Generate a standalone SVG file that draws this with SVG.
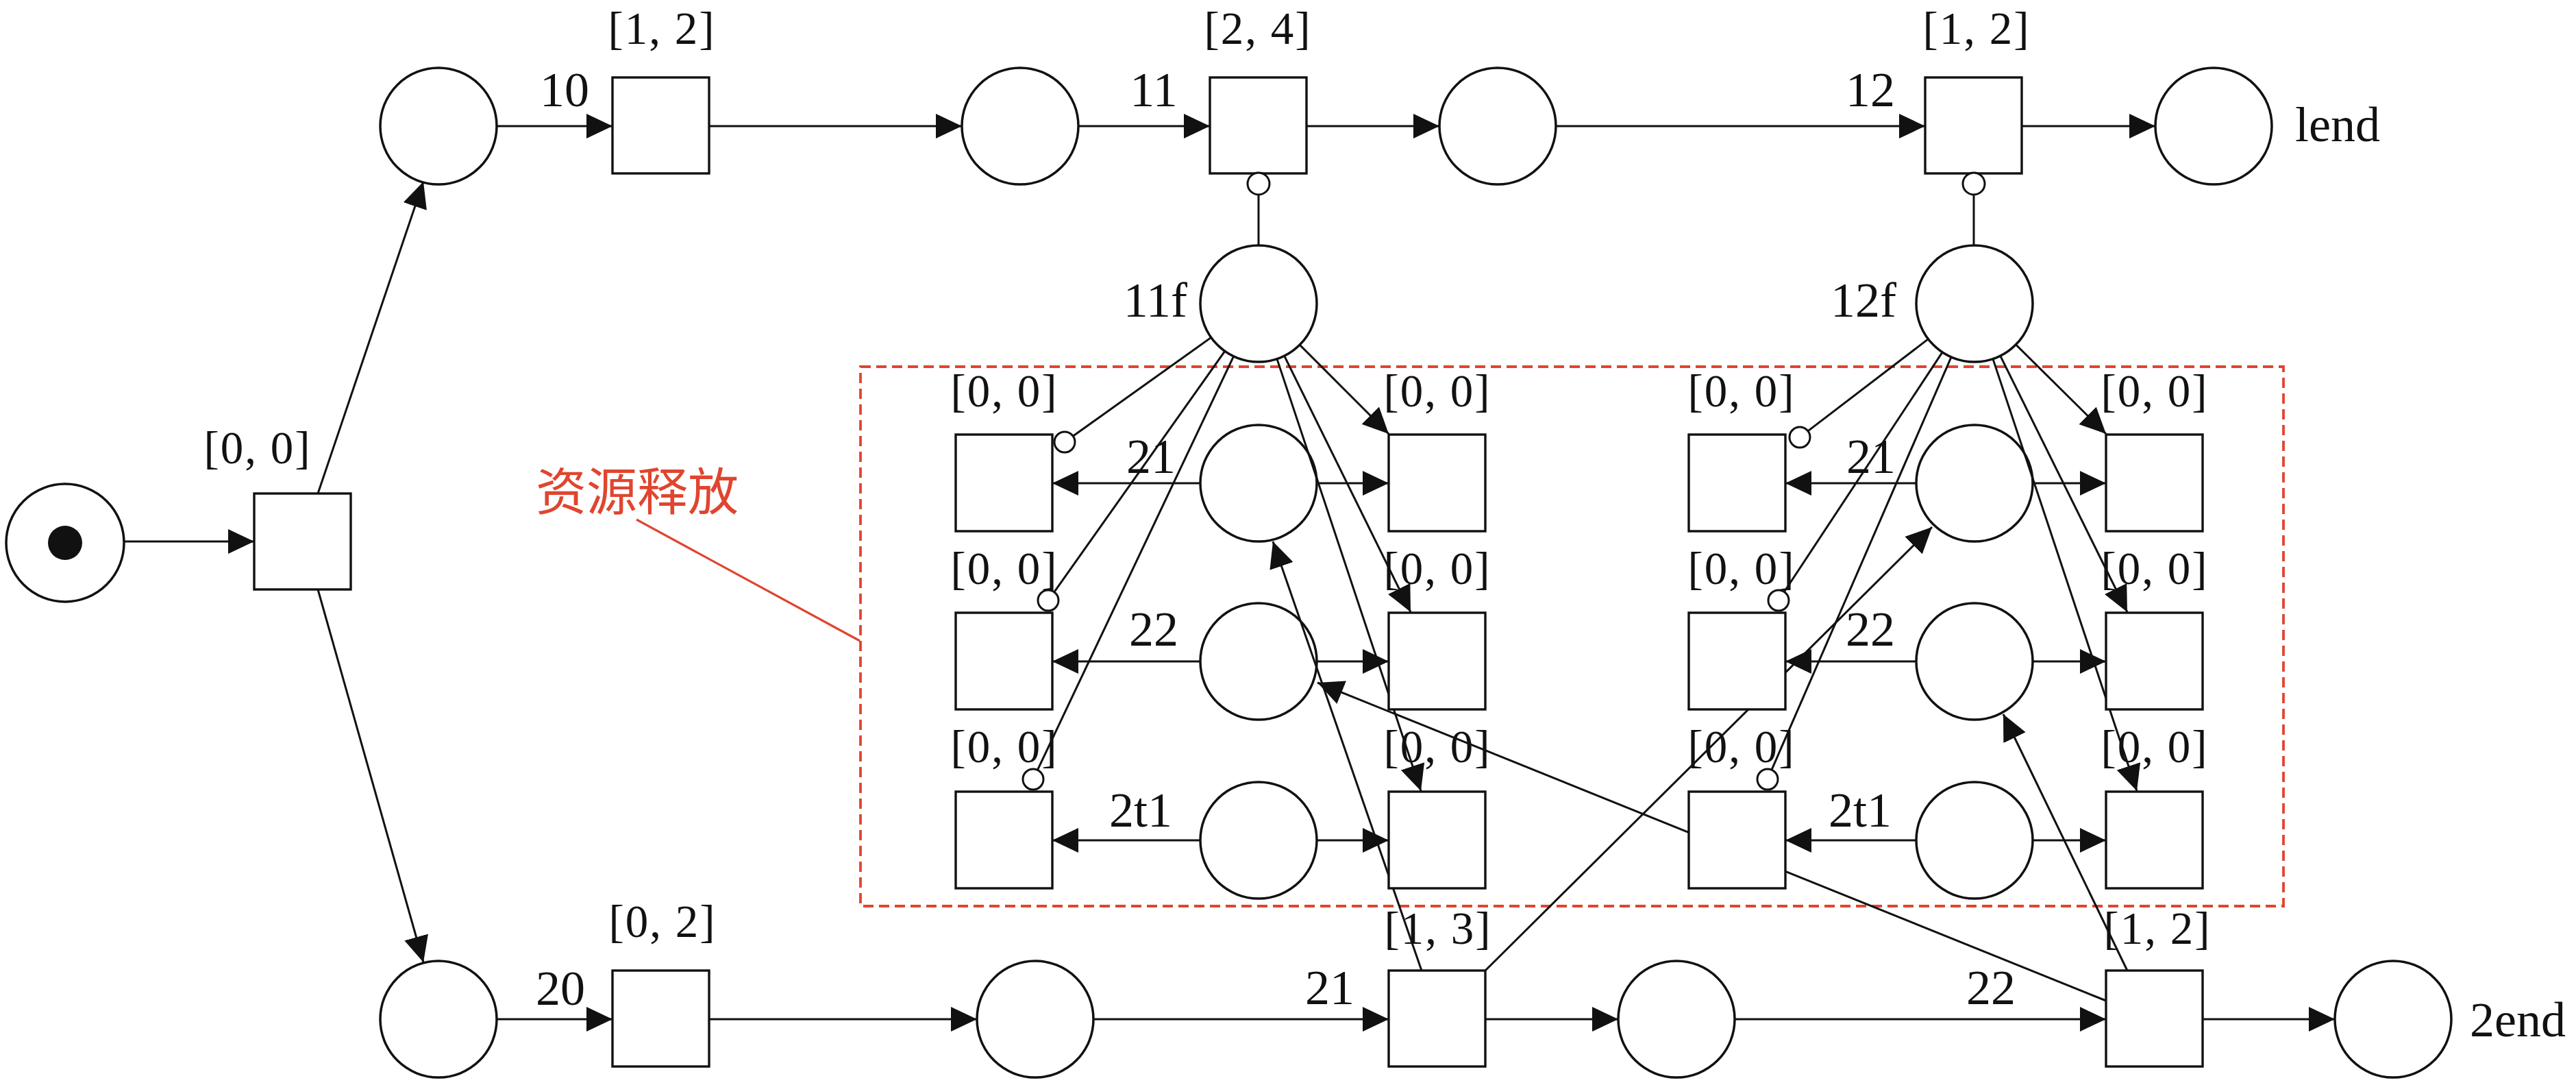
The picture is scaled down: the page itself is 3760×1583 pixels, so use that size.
<svg xmlns="http://www.w3.org/2000/svg" width="3760" height="1583" viewBox="0 0 3760 1583">
<defs>
<marker id="arr" markerUnits="userSpaceOnUse" viewBox="0 0 38 36" markerWidth="38" markerHeight="36" refX="38" refY="18" orient="auto">
<path d="M0,0 L38,18 L0,36 z" fill="#111"/>
</marker>
<style>
.c{stroke:#111;stroke-width:3;fill:none}
.a{stroke:#111;stroke-width:3;fill:none;marker-end:url(#arr)}
.p{stroke:#111;stroke-width:3.5;fill:none}
.t{stroke:#111;stroke-width:3.4;fill:#fff}
.i{stroke:#111;stroke-width:3;fill:#fff}
.b{font-family:"Liberation Serif","Times New Roman",serif;font-size:67px;letter-spacing:2px;fill:#111;text-anchor:middle}
.l{font-family:"Liberation Serif","Times New Roman",serif;font-size:72px;fill:#111}
.m{text-anchor:middle}
.e{text-anchor:end}
</style>
</defs>
<rect width="3760" height="1583" fill="#fff"/>

<g id="resource-release-box">
<rect x="1256" y="535" width="2077" height="787" fill="none" stroke="#E0452F" stroke-width="3.8" stroke-dasharray="15 8"/>
<line x1="929" y1="758" x2="1255" y2="935" stroke="#E0452F" stroke-width="3.2"/>
<text x="782" y="744" font-family="'Noto Sans CJK SC',sans-serif" font-size="74" fill="#E0452F">资源释放</text>
</g>

<g id="connectors">
<path class="a" d="M181,790 L371,790"/>
<path class="a" d="M464,720 L618,265"/>
<path class="a" d="M464,860 L618,1404"/>
<path class="a" d="M725,184 L894,184"/>
<path class="a" d="M1035,184 L1404,184"/>
<path class="a" d="M1574,184 L1766,184"/>
<path class="a" d="M1907,184 L2101,184"/>
<path class="a" d="M2271,184 L2810,184"/>
<path class="a" d="M2951,184 L3146,184"/>
<path class="a" d="M725,1487 L894,1487"/>
<path class="a" d="M1035,1487 L1426,1487"/>
<path class="a" d="M1596,1487 L2027,1487"/>
<path class="a" d="M2168,1487 L2362,1487"/>
<path class="a" d="M2532,1487 L3074,1487"/>
<path class="a" d="M3215,1487 L3408,1487"/>
<path class="c" d="M1837,284 L1837,358"/>
<path class="c" d="M2881,284 L2881,358"/>
<path class="c" d="M1767.8,492.4 L1566.2,636.3"/>
<path class="c" d="M1787.8,512.3 L1538.7,863.8"/>
<path class="c" d="M1800.6,519.8 L1514.4,1123.4"/>
<path class="a" d="M1897.1,503.1 L2027,633"/>
<path class="a" d="M1874.6,519.2 L2059,893"/>
<path class="a" d="M1863.9,523.6 L2074,1154"/>
<path class="c" d="M2814.5,494.6 L2638.9,628.9"/>
<path class="c" d="M2835.1,513.9 L2604.3,863.5"/>
<path class="c" d="M2848.1,520.9 L2586,1123.2"/>
<path class="a" d="M2942.4,502.8 L3074,633"/>
<path class="a" d="M2919.7,519.2 L3105,893"/>
<path class="a" d="M2908.9,523.6 L3119,1154"/>
<path class="a" d="M1752,705 L1536,705"/>
<path class="a" d="M1922,705 L2027,705"/>
<path class="a" d="M1752,965 L1536,965"/>
<path class="a" d="M1922,965 L2027,965"/>
<path class="a" d="M1752,1226 L1536,1226"/>
<path class="a" d="M1922,1226 L2027,1226"/>
<path class="a" d="M2797,705 L2606,705"/>
<path class="a" d="M2967,705 L3074,705"/>
<path class="a" d="M2797,965 L2606,965"/>
<path class="a" d="M2967,965 L3074,965"/>
<path class="a" d="M2797,1226 L2606,1226"/>
<path class="a" d="M2967,1226 L3074,1226"/>
<path class="a" d="M2075,1416 L1858,790"/>
<path class="a" d="M2168,1416 L2820,769"/>
<path class="a" d="M3074,1460 L1923,996"/>
<path class="a" d="M3105,1416 L2924,1042"/>
</g>

<g id="p-start"><circle class="p" cx="95" cy="792" r="86"/><circle cx="95" cy="792" r="25" fill="#111"/></g>
<g id="t-start"><rect class="t" x="371" y="720" width="141" height="140"/><text class="b" x="376" y="676">[0, 0]</text></g>

<g id="p-1a"><circle class="p" cx="640" cy="184" r="85"/></g>
<g id="t-10"><rect class="t" x="894" y="113" width="141" height="140"/><text class="b" x="966" y="64">[1, 2]</text><text class="l m" x="824" y="155">10</text></g>
<g id="p-1b"><circle class="p" cx="1489" cy="184" r="85"/></g>
<g id="t-11"><rect class="t" x="1766" y="113" width="141" height="140"/><text class="b" x="1836" y="64">[2, 4]</text><text class="l m" x="1684" y="155">11</text></g>
<g id="p-1c"><circle class="p" cx="2186" cy="184" r="85"/></g>
<g id="t-12"><rect class="t" x="2810" y="113" width="141" height="140"/><text class="b" x="2885" y="64">[1, 2]</text><text class="l m" x="2730" y="155">12</text></g>
<g id="p-lend"><circle class="p" cx="3231" cy="184" r="85"/><text class="l" x="3350" y="206">lend</text></g>
<g id="inh-11"><circle class="i" cx="1837" cy="268" r="16"/></g>
<g id="inh-12"><circle class="i" cx="2881" cy="268" r="16"/></g>

<g id="p-11f"><circle class="p" cx="1837" cy="443" r="85"/><text class="l e" x="1733" y="462">11f</text></g>
<g id="p-12f"><circle class="p" cx="2882" cy="443" r="85"/><text class="l e" x="2768" y="462">12f</text></g>

<g id="g1-p21"><circle class="p" cx="1837" cy="705" r="85"/><text class="l m" x="1680" y="690">21</text></g>
<g id="g1-p22"><circle class="p" cx="1837" cy="965" r="85"/><text class="l m" x="1684" y="942">22</text></g>
<g id="g1-p2t1"><circle class="p" cx="1837" cy="1226" r="85"/><text class="l m" x="1665" y="1206">2t1</text></g>
<g id="g1-tl1"><rect class="t" x="1395" y="634" width="141" height="141"/><text class="b" x="1466" y="593">[0, 0]</text></g>
<g id="g1-tl2"><rect class="t" x="1395" y="894" width="141" height="141"/><text class="b" x="1466" y="852">[0, 0]</text></g>
<g id="g1-tl3"><rect class="t" x="1395" y="1155" width="141" height="141"/><text class="b" x="1466" y="1112">[0, 0]</text></g>
<g id="g1-tr1"><rect class="t" x="2027" y="634" width="141" height="141"/><text class="b" x="2098" y="593">[0, 0]</text></g>
<g id="g1-tr2"><rect class="t" x="2027" y="894" width="141" height="141"/><text class="b" x="2098" y="852">[0, 0]</text></g>
<g id="g1-tr3"><rect class="t" x="2027" y="1155" width="141" height="141"/><text class="b" x="2098" y="1112">[0, 0]</text></g>
<g id="g1-inh"><circle class="i" cx="1554" cy="645" r="15"/><circle class="i" cx="1530" cy="876" r="15"/><circle class="i" cx="1508" cy="1137" r="15"/></g>

<g id="g2-p21"><circle class="p" cx="2882" cy="705" r="85"/><text class="l m" x="2731" y="690">21</text></g>
<g id="g2-p22"><circle class="p" cx="2882" cy="965" r="85"/><text class="l m" x="2730" y="942">22</text></g>
<g id="g2-p2t1"><circle class="p" cx="2882" cy="1226" r="85"/><text class="l m" x="2715" y="1206">2t1</text></g>
<g id="g2-tl1"><rect class="t" x="2465" y="634" width="141" height="141"/><text class="b" x="2542" y="593">[0, 0]</text></g>
<g id="g2-tl2"><rect class="t" x="2465" y="894" width="141" height="141"/><text class="b" x="2542" y="852">[0, 0]</text></g>
<g id="g2-tl3"><rect class="t" x="2465" y="1155" width="141" height="141"/><text class="b" x="2542" y="1112">[0, 0]</text></g>
<g id="g2-tr1"><rect class="t" x="3074" y="634" width="141" height="141"/><text class="b" x="3145" y="593">[0, 0]</text></g>
<g id="g2-tr2"><rect class="t" x="3074" y="894" width="141" height="141"/><text class="b" x="3145" y="852">[0, 0]</text></g>
<g id="g2-tr3"><rect class="t" x="3074" y="1155" width="141" height="141"/><text class="b" x="3145" y="1112">[0, 0]</text></g>
<g id="g2-inh"><circle class="i" cx="2627" cy="638" r="15"/><circle class="i" cx="2596" cy="876" r="15"/><circle class="i" cx="2580" cy="1137" r="15"/></g>

<g id="p-2a"><circle class="p" cx="640" cy="1487" r="85"/></g>
<g id="t-20"><rect class="t" x="894" y="1416" width="141" height="140"/><text class="b" x="967" y="1367">[0, 2]</text><text class="l m" x="818" y="1466">20</text></g>
<g id="p-2b"><circle class="p" cx="1511" cy="1487" r="85"/></g>
<g id="t-21"><rect class="t" x="2027" y="1416" width="141" height="140"/><text class="b" x="2099" y="1377">[1, 3]</text><text class="l m" x="1941" y="1465">21</text></g>
<g id="p-2c"><circle class="p" cx="2447" cy="1487" r="85"/></g>
<g id="t-22"><rect class="t" x="3074" y="1416" width="141" height="140"/><text class="b" x="3149" y="1377">[1, 2]</text><text class="l m" x="2906" y="1465">22</text></g>
<g id="p-2end"><circle class="p" cx="3493" cy="1487" r="85"/><text class="l" x="3605" y="1512">2end</text></g>
</svg>
